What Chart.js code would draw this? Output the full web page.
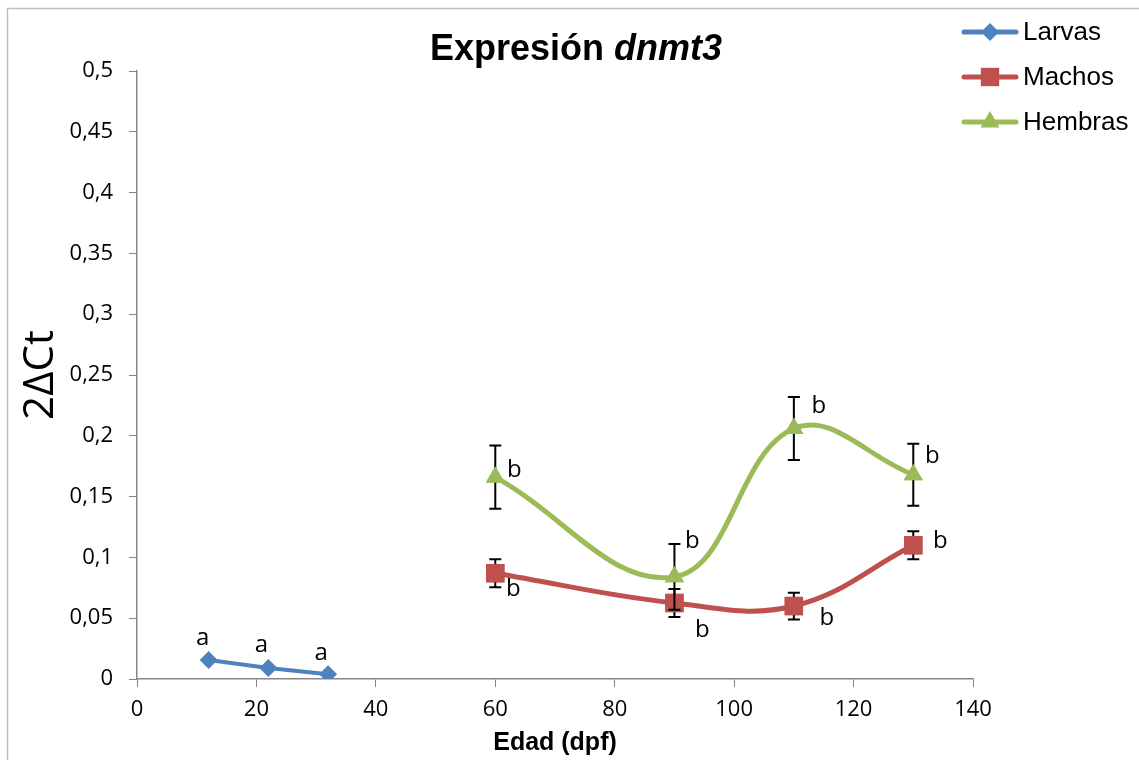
<!DOCTYPE html>
<html>
<head>
<meta charset="utf-8">
<script src="https://cdn.jsdelivr.net/npm/chart.js@4.4.1/dist/chart.umd.min.js"></script>
<style>
  html, body { margin: 0; padding: 0; background: #fff; }
  #wrap { width: 1139px; height: 760px; position: relative; }
</style>
</head>
<body>
<div id="wrap"><canvas id="chart"></canvas></div>
<script>
// data
var larvasX = [12, 22, 32]
var larvasY = [0.0156, 0.009, 0.004]
var larvasSig = ['a', 'a', 'a']

var machosX = [60, 90, 110, 130]
var machosY = [0.087, 0.0625, 0.060, 0.110]
var machosErr = [0.0115, 0.0115, 0.011, 0.0115]
var machosSig = ['b', 'b', 'b', 'b']

var hembrasX = [60, 90, 110, 130]
var hembrasY = [0.166, 0.084, 0.206, 0.168]
var hembrasErr = [0.026, 0.027, 0.026, 0.0255]
var hembrasSig = ['b', 'b', 'b', 'b']

var xTicks = [0, 20, 40, 60, 80, 100, 120, 140]

function pts(xs, ys) {
    return xs.map(function (x, i) { return {x: x, y: ys[i]} })
}

var blue = '#4F81BD', red = '#C0504D', green = '#9BBB59'

// error bars, drawn under the markers
var errorBars = {
    id: 'errorBars',
    afterDatasetsDraw: function (chart) {
        var ctx = chart.ctx, y = chart.scales.y
        chart.data.datasets.forEach(function (ds, di) {
            if (!ds.err) return
            var meta = chart.getDatasetMeta(di)
            ctx.save()
            ctx.strokeStyle = '#000'
            ctx.lineWidth = 2
            meta.data.forEach(function (p, i) {
                var v = ds.data[i].y, e = ds.err[i]
                var top = y.getPixelForValue(v + e), bot = y.getPixelForValue(v - e)
                ctx.beginPath()
                ctx.moveTo(p.x, top); ctx.lineTo(p.x, bot)
                ctx.moveTo(p.x - 6, top); ctx.lineTo(p.x + 6, top)
                ctx.moveTo(p.x - 6, bot); ctx.lineTo(p.x + 6, bot)
                ctx.stroke()
            })
            ctx.restore()
            // redraw markers on top of the bars
            meta.data.forEach(function (p) { p.draw(ctx, chart.chartArea) })
        })
    }
}

// significance letters next to each point
var sigLetters = {
    id: 'sigLetters',
    afterDatasetsDraw: function (chart) {
        var ctx = chart.ctx
        ctx.save()
        ctx.fillStyle = '#000'
        ctx.font = '24px "Open Sans"'
        ctx.textAlign = 'center'
        ctx.textBaseline = 'middle'
        chart.data.datasets.forEach(function (ds, di) {
            var meta = chart.getDatasetMeta(di)
            meta.data.forEach(function (p, i) {
                var off = ds.sigOffset[i]
                ctx.fillText(ds.sig[i], p.x + off[0], p.y + off[1])
            })
        })
        ctx.restore()
    }
}

// frame, title and legend
var decor = {
    id: 'decor',
    beforeDraw: function (chart) {
        var ctx = chart.ctx
        ctx.save()
        ctx.strokeStyle = '#BFBFBF'
        ctx.lineWidth = 1.5
        ctx.beginPath()
        ctx.moveTo(7.5, 770); ctx.lineTo(7.5, 8.5); ctx.lineTo(1150, 8.5)
        ctx.stroke()
        ctx.restore()
    },
    afterDraw: function (chart) {
        var ctx = chart.ctx
        ctx.save()
        // title with italic gene name
        ctx.fillStyle = '#000'
        ctx.textBaseline = 'alphabetic'
        ctx.textAlign = 'left'
        var f1 = 'bold 36px "Liberation Sans", Arial', f2 = 'italic bold 36px "Liberation Sans", Arial'
        var t1 = 'Expresión ', t2 = 'dnmt3'
        ctx.font = f1; var w1 = ctx.measureText(t1).width
        ctx.font = f2; var w2 = ctx.measureText(t2).width
        var sx = 576 - (w1 + w2) / 2
        ctx.font = f1; ctx.fillText(t1, sx, 60)
        ctx.font = f2; ctx.fillText(t2, sx + w1, 60)

        // legend
        chart.data.datasets.forEach(function (ds, i) {
            var cy = 32 + i * 45
            ctx.strokeStyle = ds.borderColor
            ctx.lineWidth = 5
            ctx.lineCap = 'round'
            ctx.beginPath()
            ctx.moveTo(964, cy); ctx.lineTo(1016, cy)
            ctx.stroke()
            ctx.fillStyle = ds.backgroundColor
            Chart.helpers.drawPoint(ctx, {pointStyle: ds.pointStyle, radius: ds.pointRadius, borderWidth: 0}, 990, cy)
            ctx.fillStyle = '#000'
            ctx.font = '26px "Liberation Sans", Arial'
            ctx.textBaseline = 'middle'
            ctx.fillText(ds.label, 1023, cy + 1)
        })
        ctx.restore()
    }
}

function fmt(v) {
    return String(Math.round(v * 100) / 100).replace('.', ',')
}

new Chart(document.getElementById('chart').getContext('2d'), {
    type: 'scatter',
    data: {
        datasets: [{
            label: 'Larvas',
            data: pts(larvasX, larvasY),
            sig: larvasSig,
            sigOffset: [[-6, -22], [-7, -23], [-7, -21]],
            showLine: true,
            tension: 0,
            borderColor: blue,
            backgroundColor: blue,
            borderWidth: 4,
            pointStyle: 'rectRot',
            pointRadius: 9,
            pointBorderWidth: 0
        }, {
            label: 'Machos',
            data: pts(machosX, machosY),
            err: machosErr,
            sig: machosSig,
            sigOffset: [[18, 16], [28, 27], [33, 12], [27, -4]],
            showLine: true,
            tension: 0.4,
            borderColor: red,
            backgroundColor: red,
            borderWidth: 5,
            pointStyle: 'rect',
            pointRadius: 13,
            pointBorderWidth: 0
        }, {
            label: 'Hembras',
            data: pts(hembrasX, hembrasY),
            err: hembrasErr,
            sig: hembrasSig,
            sigOffset: [[19, -7], [18, -36], [25, -22], [19, -19]],
            showLine: true,
            tension: 0.4,
            borderColor: green,
            backgroundColor: green,
            borderWidth: 5,
            pointStyle: 'triangle',
            pointRadius: 11,
            pointBorderWidth: 0
        }]
    },
    options: {
        responsive: true,
        maintainAspectRatio: false,
        animation: false,
        layout: {padding: {left: 0, top: 71, right: 166, bottom: 0}},
        plugins: {
            legend: {display: false},
            title: {display: false},
            tooltip: {enabled: false}
        },
        scales: {
            x: {
                type: 'linear',
                min: 0, max: 140,
                afterBuildTicks: function (s) { s.ticks = xTicks.map(function (v) { return {value: v} }) },
                afterFit: function (s) { s.height = 81 },
                ticks: {color: '#000', font: {size: 22, family: '"Open Sans"'}, padding: 10, maxRotation: 0},
                grid: {drawOnChartArea: false, drawTicks: true, tickLength: 8, tickColor: '#868686'},
                border: {color: '#868686', width: 1.5},
                title: {display: true, text: 'Edad (dpf)', color: '#000', font: {size: 25, weight: 'bold', family: '"Liberation Sans", Arial'}, padding: {bottom: 2, top: 0}}
            },
            y: {
                min: 0, max: 0.5,
                afterFit: function (s) { s.width = 137 },
                ticks: {stepSize: 0.05, color: '#000', font: {size: 22, family: '"Open Sans"'}, padding: 16, callback: fmt},
                grid: {drawOnChartArea: false, drawTicks: true, tickLength: 8, tickColor: '#868686'},
                border: {color: '#868686', width: 1.5},
                title: {display: true, text: '2ΔCt', color: '#000', font: {size: 42, family: '"Open Sans"'}, padding: {top: 16, bottom: 0}}
            }
        }
    },
    plugins: [errorBars, sigLetters, decor]
})
</script>
</body>
</html>
